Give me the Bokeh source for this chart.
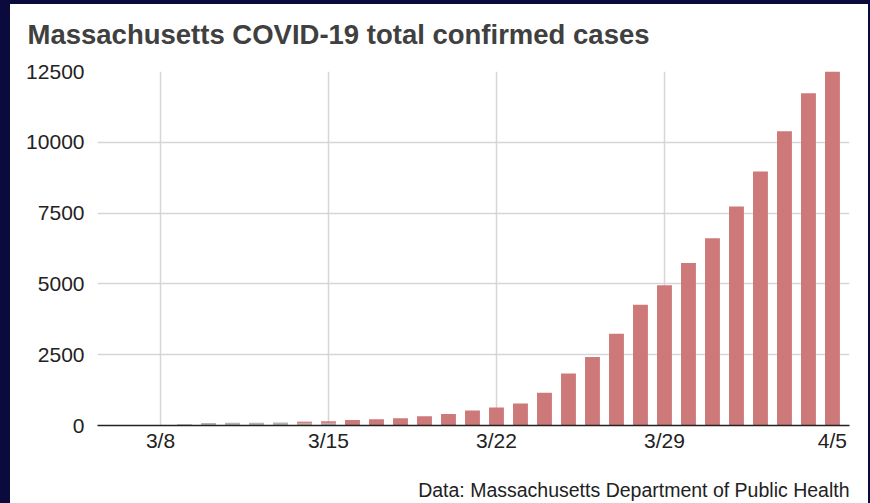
import pandas as pd
from bokeh.plotting import figure
from bokeh.models import Range1d, FixedTicker, Title, ColumnDataSource, Spacer
from bokeh.layouts import row, column
from bokeh.embed import file_html
from bokeh.resources import INLINE

# ---- data ----
dates = ["3/9", "3/10", "3/11", "3/12", "3/13", "3/14", "3/15", "3/16", "3/17",
         "3/18", "3/19", "3/20", "3/21", "3/22", "3/23", "3/24", "3/25", "3/26",
         "3/27", "3/28", "3/29", "3/30", "3/31", "4/1", "4/2", "4/3", "4/4", "4/5"]
presumptive = [40, 90, 95, 100, 105, 105, 110, 0, 0,
               0, 0, 0, 0, 0, 0, 0, 0, 0,
               0, 0, 0, 0, 0, 0, 0, 0, 0, 0]
confirmed_cdc = [0, 0, 0, 0, 0, 30, 35, 0, 0,
                 0, 0, 0, 0, 0, 0, 0, 0, 0,
                 0, 0, 0, 0, 0, 0, 0, 0, 0, 0]
confirmed = [0, 0, 0, 0, 0, 0, 0, 197, 218,
             256, 330, 410, 530, 640, 777, 1160, 1840, 2420,
             3240, 4260, 4955, 5740, 6610, 7730, 8970, 10390, 11730, 12500]
tick_labels = ["3/8", "3/15", "3/22", "3/29", "4/5"]
y_ticks = [0, 2500, 5000, 7500, 10000, 12500]

start = pd.Timestamp("2020-03-08")
def day(d):
    return (pd.Timestamp("2020/" + d) - start).days

x = [day(d) for d in dates]
tick_pos = [day(t) for t in tick_labels]

src = ColumnDataSource(dict(x=x, presumptive=presumptive,
                            confirmed_cdc=confirmed_cdc, confirmed=confirmed))

NAVY = "#0a0a3c"
W, H = 858, 499
fig = figure(width=W, height=H, output_backend="svg", toolbar_location=None,
             x_range=Range1d(-2.625, 28.71), y_range=Range1d(0, 12500),
             min_border_left=87, min_border_right=19, min_border_top=67,
             min_border_bottom=78)
fig.outline_line_color = None
fig.background_fill_color = "white"
fig.border_fill_color = "white"

fig.vbar_stack(["presumptive", "confirmed_cdc", "confirmed"], x="x", width=0.62,
               color=["#b3b3b3", "#e8262a", "#cd7879"], source=src,
               line_color=None)

# axes
fig.xaxis.ticker = FixedTicker(ticks=tick_pos)
fig.xaxis.major_label_overrides = {t: l for t, l in zip(tick_pos, tick_labels)}
fig.yaxis.ticker = FixedTicker(ticks=y_ticks)
for ax in (fig.xaxis, fig.yaxis):
    ax.major_tick_line_color = None
    ax.minor_tick_line_color = None
    ax.major_tick_out = 0
    ax.major_tick_in = 0
    ax.major_label_text_font = "Liberation Sans"
    ax.major_label_text_font_size = "21px"
    ax.major_label_text_color = "#222222"
fig.yaxis.axis_line_color = None
fig.yaxis.major_label_standoff = 13
fig.xaxis.axis_line_color = "#222222"
fig.xaxis.axis_line_width = 1.5
fig.xaxis.major_label_standoff = 3

fig.xgrid.ticker = FixedTicker(ticks=tick_pos)
fig.ygrid.ticker = FixedTicker(ticks=y_ticks)
for g in (fig.xgrid, fig.ygrid):
    g.grid_line_color = "#d6d6d6"
    g.grid_line_width = 1.5

# small spacer between the frame and the title, then the title (outermost)
top_gap = Title(text=" ", text_font_size="1px", standoff=3)
fig.add_layout(top_gap, "above")
fig.title.text = "Massachusetts COVID-19 total confirmed cases"
fig.title.text_font = "Liberation Sans"
fig.title.text_font_style = "bold"
fig.title.text_font_size = "27.5px"
fig.title.text_color = "#404040"
fig.title.align = "left"
fig.title.vertical_align = "top"
fig.title.offset = -70
fig.title.standoff = 27

# spacer between axis and footer, then footer
spacer = Title(text=" ", text_font_size="1px", standoff=16)
fig.add_layout(spacer, "below")
footer = Title(text="Data: Massachusetts Department of Public Health",
               align="right", vertical_align="bottom",
               text_font="Liberation Sans", text_font_style="normal",
               text_font_size="19.5px", text_color="#222222", standoff=6)
fig.add_layout(footer, "below")

# dark navy frame strips around the white card
top_strip = Spacer(width=870, height=4, styles={"background-color": NAVY})
left_strip = Spacer(width=10, height=H, styles={"background-color": NAVY})
right_strip = Spacer(width=2, height=H, styles={"background-color": NAVY})
p = column(top_strip, row(left_strip, fig, right_strip, spacing=0), spacing=0)

open("out.html", "w").write(file_html(p, INLINE))
